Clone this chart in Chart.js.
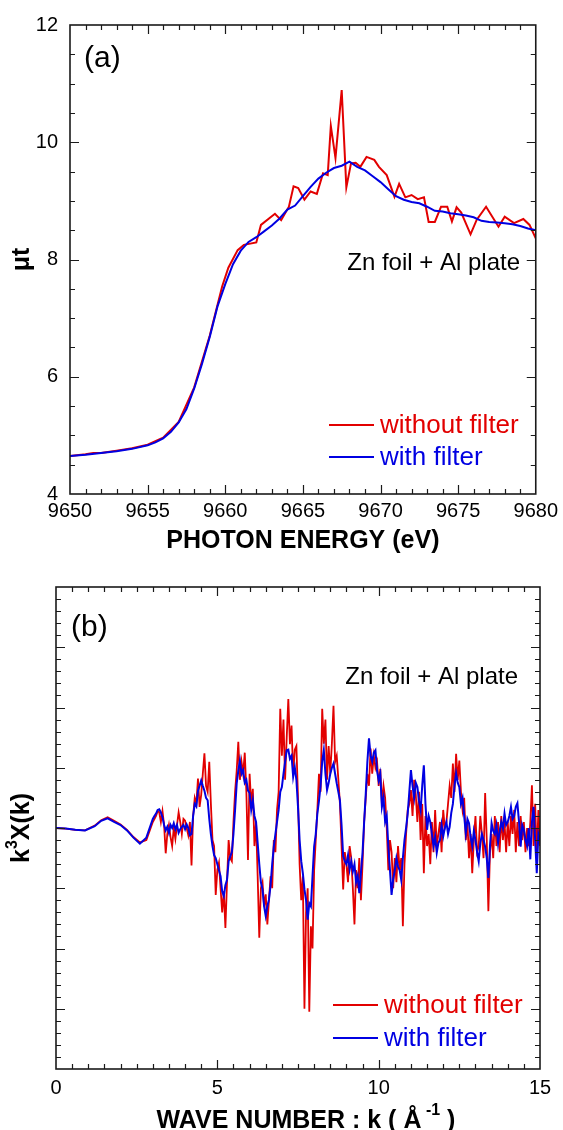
<!DOCTYPE html>
<html>
<head>
<meta charset="utf-8">
<script src="https://cdn.jsdelivr.net/npm/chart.js@4.4.1/dist/chart.umd.min.js"></script>
<style>
body { margin: 0; background: #fff; width: 563px; height: 1130px; position: relative; overflow: hidden; }
.box { position: absolute; left: 0; width: 563px; }
#boxA { top: 0; height: 560px; }
#boxB { top: 560px; height: 570px; }
</style>
</head>
<body>
<div class="box" id="boxA"><canvas id="chartA" width="563" height="560"></canvas></div>
<div class="box" id="boxB"><canvas id="chartB" width="563" height="570"></canvas></div>
<script>
// (a) XANES, photon energy (eV) vs mu*t
const energyFilter = [9650, 9651, 9652, 9653, 9654, 9655, 9655.5, 9656, 9656.5, 9657, 9657.5, 9658, 9658.5, 9659, 9659.5, 9660, 9660.5, 9661, 9661.5, 9662, 9662.5, 9663, 9663.5, 9664, 9664.5, 9665, 9665.5, 9666, 9666.5, 9667, 9667.5, 9668, 9668.5, 9669, 9669.5, 9670, 9670.5, 9671, 9671.5, 9672, 9672.5, 9673, 9673.5, 9674, 9674.5, 9675, 9675.5, 9676, 9676.5, 9677, 9677.5, 9678, 9678.5, 9679, 9679.5, 9680];
const muFilter = [4.65, 4.67, 4.70, 4.73, 4.77, 4.83, 4.88, 4.95, 5.06, 5.22, 5.45, 5.80, 6.22, 6.68, 7.20, 7.58, 7.92, 8.15, 8.30, 8.38, 8.48, 8.58, 8.70, 8.85, 8.92, 9.08, 9.24, 9.38, 9.48, 9.56, 9.60, 9.67, 9.58, 9.52, 9.42, 9.32, 9.20, 9.08, 9.02, 8.98, 8.96, 8.90, 8.83, 8.82, 8.79, 8.77, 8.75, 8.72, 8.66, 8.64, 8.63, 8.62, 8.60, 8.57, 8.53, 8.50];

const energyNoFilter = [9650, 9651, 9651.5, 9652, 9653, 9654, 9655, 9656, 9657, 9658, 9659, 9659.8, 9660.2, 9660.8, 9661.2, 9662.0, 9662.3, 9663.2, 9663.6, 9664.1, 9664.4, 9664.7, 9665.1, 9665.5, 9665.9, 9666.3, 9666.6, 9666.8, 9667.1, 9667.5, 9667.8, 9668.1, 9668.4, 9668.7, 9669.1, 9669.6, 9669.9, 9670.4, 9670.9, 9671.2, 9671.6, 9672.0, 9672.4, 9672.8, 9673.1, 9673.5, 9673.9, 9674.3, 9674.6, 9674.9, 9675.2, 9675.8, 9676.2, 9676.8, 9677.6, 9678.0, 9678.6, 9679.2, 9679.6, 9680];
const muNoFilter = [4.65, 4.68, 4.70, 4.70, 4.74, 4.78, 4.84, 4.96, 5.23, 5.82, 6.70, 7.54, 7.86, 8.16, 8.25, 8.29, 8.59, 8.78, 8.67, 8.90, 9.25, 9.22, 9.02, 9.16, 9.12, 9.47, 9.44, 10.28, 9.73, 10.89, 9.23, 9.64, 9.65, 9.58, 9.75, 9.70, 9.58, 9.44, 9.07, 9.29, 9.06, 9.10, 9.03, 9.06, 8.64, 8.64, 8.90, 8.90, 8.65, 8.89, 8.80, 8.43, 8.68, 8.90, 8.56, 8.73, 8.62, 8.69, 8.59, 8.36];

// (b) EXAFS, k (1/A) vs k^3 chi(k)
const kValues = [0, 0.3, 0.6, 0.9, 1.2, 1.4, 1.6, 1.8, 2.0, 2.2, 2.4, 2.6, 2.8,
  3.0, 3.05, 3.1, 3.15, 3.2, 3.25, 3.3, 3.35, 3.4, 3.45, 3.5, 3.55, 3.6, 3.65, 3.7, 3.75, 3.8, 3.85, 3.9, 3.95,
  4.0, 4.05, 4.1, 4.15, 4.2, 4.25, 4.3, 4.35, 4.4, 4.45, 4.5, 4.55, 4.6, 4.65, 4.7, 4.75, 4.8, 4.85, 4.9, 4.95,
  5.0, 5.05, 5.1, 5.15, 5.2, 5.25, 5.3, 5.35, 5.4, 5.45, 5.5, 5.55, 5.6, 5.65, 5.7, 5.75, 5.8, 5.85, 5.9, 5.95,
  6.0, 6.05, 6.1, 6.15, 6.2, 6.25, 6.3, 6.35, 6.4, 6.45, 6.5, 6.55, 6.6, 6.65, 6.7, 6.75, 6.8, 6.85, 6.9, 6.95,
  7.0, 7.05, 7.1, 7.15, 7.2, 7.25, 7.3, 7.35, 7.4, 7.45, 7.5, 7.55, 7.6, 7.65, 7.7, 7.75, 7.8, 7.85, 7.9, 7.95,
  8.0, 8.05, 8.1, 8.15, 8.2, 8.25, 8.3, 8.35, 8.4, 8.45, 8.5, 8.55, 8.6, 8.65, 8.7, 8.75, 8.8, 8.85, 8.9, 8.95,
  9.0, 9.05, 9.1, 9.15, 9.2, 9.25, 9.3, 9.35, 9.4, 9.45, 9.5, 9.55, 9.6, 9.65, 9.7, 9.75, 9.8, 9.85, 9.9, 9.95,
  10.0, 10.05, 10.1, 10.15, 10.2, 10.25, 10.3, 10.35, 10.4, 10.45, 10.5, 10.55, 10.6, 10.65, 10.7, 10.75, 10.8, 10.85, 10.9, 10.95,
  11.0, 11.05, 11.1, 11.15, 11.2, 11.25, 11.3, 11.35, 11.4, 11.45, 11.5, 11.55, 11.6, 11.65, 11.7, 11.75, 11.8, 11.85, 11.9, 11.95,
  12.0, 12.05, 12.1, 12.15, 12.2, 12.25, 12.3, 12.35, 12.4, 12.45, 12.5, 12.55, 12.6, 12.65, 12.7, 12.75, 12.8, 12.85, 12.9, 12.95,
  13.0, 13.05, 13.1, 13.15, 13.2, 13.25, 13.3, 13.35, 13.4, 13.45, 13.5, 13.55, 13.6, 13.65, 13.7, 13.75, 13.8, 13.85, 13.9, 13.95,
  14.0, 14.05, 14.1, 14.15, 14.2, 14.25, 14.3, 14.35, 14.4, 14.45, 14.5, 14.55, 14.6, 14.65, 14.7, 14.75, 14.8, 14.85, 14.9, 14.95,
  15.0];
const chiFilter = [0, -0.01, -0.03, -0.04, 0.03, 0.12, 0.16, 0.10, 0.05, -0.04, -0.16, -0.26, -0.16,
  0.15, 0.20, 0.24, 0.30, 0.31, 0.26, 0.18, 0.05, -0.04, 0.02, -0.08, 0.05, 0.00, 0.08, -0.02, 0.05, -0.08, -0.02, 0.02, 0.05,
  -0.02, 0.06, 0.00, -0.12, -0.10, 0.20, 0.40, 0.36, 0.62, 0.70, 0.79, 0.70, 0.62, 0.50, 0.46, 0.15, -0.10, -0.30, -0.45, -0.50,
  -0.60, -0.70, -0.80, -1.05, -1.13, -0.95, -0.86, -0.55, -0.47, -0.40, -0.10, 0.30, 0.74, 0.95, 1.12, 0.90, 0.96, 0.75, 0.80, 0.62,
  0.58, 0.30, 0.46, 0.20, 0.10, -0.25, -0.60, -0.90, -1.02, -1.30, -1.46, -1.30, -1.19, -0.95, -0.60, -0.31, -0.10, 0.10, 0.30, 0.60,
  0.68, 0.90, 1.10, 1.29, 1.30, 1.15, 1.20, 0.85, 1.01, 0.80, 0.35, -0.20, -0.55, -0.75, -1.02, -1.20, -1.52, -1.25, -1.30, -0.80,
  -0.31, -0.10, 0.24, 0.45, 0.70, 1.10, 1.29, 0.90, 0.63, 0.75, 0.90, 1.00, 1.07, 0.90, 0.74, 0.60, 0.46, 0.05, -0.47, -0.55,
  -0.60, -0.45, -0.69, -0.55, -0.72, -0.60, -0.90, -0.80, -1.08, -0.75, -0.41, 0.10, 0.57, 1.10, 1.49, 1.20, 1.10, 1.25, 1.29, 0.95,
  0.79, 0.90, 0.35, 0.50, 0.10, 0.20, -0.31, -0.70, -1.11, -0.85, -0.70, -0.50, -0.64, -0.70, -0.86, -0.50, -0.20, 0.00, 0.24, 0.60,
  0.96, 0.70, 0.50, 0.75, 0.68, 0.45, 0.30, 0.70, 1.04, 0.40, -0.03, 0.20, 0.10, -0.10, -0.30, -0.15, -0.41, -0.25, -0.20, 0.05,
  -0.14, 0.00, 0.10, -0.10, 0.02, 0.25, 0.40, 0.70, 0.91, 0.75, 0.68, 0.40, 0.50, 0.20, -0.09, 0.15, 0.08, -0.15, -0.30, -0.05,
  -0.20, -0.40, -0.55, -0.25, -0.10, -0.20, -0.31, -0.50, -0.83, -0.30, 0.08, -0.05, -0.10, 0.05, -0.25, -0.05, 0.10, 0.00, 0.24, 0.05,
  0.10, 0.20, 0.35, 0.15, 0.20, 0.35, 0.41, 0.10, -0.31, 0.05, -0.03, -0.20, -0.30, 0.00, -0.52, 0.10, 0.35, -0.20, -0.75, -0.10,
  -0.20];
const chiNoFilter = [0, -0.01, -0.03, -0.04, 0.04, 0.13, 0.18, 0.12, 0.06, -0.03, -0.15, -0.24, -0.20,
  0.10, 0.15, 0.20, 0.28, 0.26, 0.10, 0.28, 0.05, -0.42, -0.10, 0.05, -0.15, -0.30, 0.00, -0.18, 0.05, 0.26, 0.10, -0.10, 0.15,
  0.12, 0.00, -0.12, 0.10, -0.62, 0.20, 0.50, 0.40, 0.82, 0.35, 0.55, 0.90, 1.24, 0.70, 0.60, 1.10, 0.40, -0.20, -0.30, -1.11,
  -0.70, -0.58, -1.00, -1.40, -1.05, -1.66, -0.90, -0.20, -0.50, -0.55, 0.10, 0.60, 0.95, 1.43, 0.80, 1.10, 0.90, 1.25, 0.60, -0.53,
  0.90, 0.40, 0.65, -0.30, 0.10, -0.80, -1.82, -1.00, -0.90, -1.30, -1.10, -1.60, -1.20, -0.80, -1.00, -0.20, -0.40, 0.30, 0.60, 1.98,
  1.20, 1.80, 0.80, 1.50, 2.14, 1.39, 1.70, 0.90, 1.30, 1.36, 0.50, -0.60, -1.20, -0.80, -3.00, -1.40, -1.00, -3.05, -1.63, -2.00,
  -0.70, -0.20, 0.30, 0.90, 0.60, 1.98, 1.40, 1.80, 0.80, 1.36, 0.90, 1.40, 2.03, 1.10, 1.20, 0.81, 0.40, -0.30, -1.02, -0.40,
  -0.60, -0.90, -0.30, -0.50, -1.00, -1.60, -0.70, -1.00, -0.50, -1.20, -0.60, 0.10, 0.50, 0.90, 0.70, 1.32, 0.90, 1.20, 1.00, 1.10,
  0.70, 0.98, 0.40, 0.70, 0.50, 0.00, -0.70, -0.20, -0.40, -1.00, -0.50, -0.90, -0.30, -0.70, -0.50, -1.63, -0.60, -0.10, 0.30, 0.40,
  0.63, 0.20, 0.80, 0.55, 0.10, 0.60, -0.20, 0.40, -0.75, 0.20, -0.30, -0.10, -0.60, 0.10, -0.40, 0.30, -0.30, -0.10, 0.10, -0.40,
  0.30, 0.00, 0.10, 0.40, 0.70, 0.50, 1.07, 0.60, 1.23, 0.80, 1.12, 0.60, 0.30, 0.50, -0.20, 0.10, -0.50, -0.10, -0.75, -0.20,
  0.20, -0.40, -0.30, 0.20, -0.10, -0.50, 0.58, -0.20, -1.38, -0.40, -0.10, -0.50, 0.20, -0.30, 0.10, -0.40, 0.20, -0.20, 0.10, -0.40,
  0.10, -0.30, 0.20, -0.10, 0.30, -0.40, 0.10, -0.30, 0.20, -0.20, 0.10, -0.40, 0.00, -0.30, 0.10, 0.71, -0.30, 0.40, -0.50, 0.30,
  -0.30];

const RED = 'rgb(226,0,0)';
const BLUE = 'rgb(0,0,226)';
const FONT = "'Liberation Sans', Arial, sans-serif";

function pts(xs, ys) {
  return xs.map((x, i) => ({ x: x, y: ys[i] }));
}

// frame + inward ticks on all four sides
const frameTicks = {
  id: 'frameTicks',
  afterDatasetsDraw(chart, args, opts) {
    const { ctx, chartArea: a, scales } = chart;
    ctx.save();
    ctx.strokeStyle = '#1a1a1a';
    ctx.lineWidth = 1.2;
    ctx.beginPath();
    const xs = scales.x, ys = scales.y;
    let n = Math.round((xs.max - xs.min) / opts.xMinor);
    let r = Math.round(opts.xMajor / opts.xMinor);
    for (let i = 1; i < n; i++) {
      const p = Math.round(xs.getPixelForValue(xs.min + i * opts.xMinor)) + 0.5;
      const len = i % r === 0 ? opts.majorLen : opts.minorLen;
      ctx.moveTo(p, a.bottom); ctx.lineTo(p, a.bottom - len);
      ctx.moveTo(p, a.top); ctx.lineTo(p, a.top + len);
    }
    n = Math.round((ys.max - ys.min) / opts.yMinor);
    r = Math.round(opts.yMajor / opts.yMinor);
    for (let i = 1; i < n; i++) {
      const p = Math.round(ys.getPixelForValue(ys.min + i * opts.yMinor)) + 0.5;
      const len = i % r === 0 ? opts.majorLen : opts.minorLen;
      ctx.moveTo(a.left, p); ctx.lineTo(a.left + len, p);
      ctx.moveTo(a.right, p); ctx.lineTo(a.right - len, p);
    }
    ctx.stroke();
    ctx.lineWidth = 1.6;
    ctx.strokeRect(a.left, a.top, a.right - a.left, a.bottom - a.top);
    ctx.restore();
  }
};

// text pieces: panel tag, sample note, legend, axis titles
function drawLegend(ctx, x, yTop, gap) {
  ctx.font = '26px ' + FONT;
  ctx.textAlign = 'left';
  ctx.textBaseline = 'middle';
  [[RED, 'without filter'], [BLUE, 'with filter']].forEach((it, i) => {
    const y = yTop + i * gap;
    ctx.strokeStyle = it[0];
    ctx.lineWidth = 2.2;
    ctx.beginPath();
    ctx.moveTo(x, y); ctx.lineTo(x + 45, y);
    ctx.stroke();
    ctx.fillStyle = it[0];
    ctx.fillText(it[1], x + 51, y + 1);
  });
}

const textsA = {
  id: 'textsA',
  afterDraw(chart) {
    const { ctx, chartArea: a } = chart;
    ctx.save();
    ctx.fillStyle = '#000';
    ctx.textBaseline = 'middle';
    ctx.font = '30px ' + FONT;
    ctx.textAlign = 'left';
    ctx.fillText('(a)', 84, 59);
    ctx.font = '24px ' + FONT;
    ctx.textAlign = 'right';
    ctx.fillText('Zn foil + Al plate', 520, 263);
    ctx.font = 'bold 25px ' + FONT;
    ctx.textAlign = 'center';
    ctx.fillText('PHOTON ENERGY (eV)', (a.left + a.right) / 2, 541);
    ctx.translate(22, (a.top + a.bottom) / 2);
    ctx.rotate(-Math.PI / 2);
    ctx.fillText('\u03bct', 0, 0);
    ctx.setTransform(1, 0, 0, 1, 0, 0);
    drawLegend(ctx, 329, 425, 32);
    ctx.restore();
  }
};

const textsB = {
  id: 'textsB',
  afterDraw(chart) {
    const { ctx, chartArea: a } = chart;
    ctx.save();
    ctx.fillStyle = '#000';
    ctx.textBaseline = 'middle';
    ctx.font = '30px ' + FONT;
    ctx.textAlign = 'left';
    ctx.fillText('(b)', 71, 68);
    ctx.font = '24px ' + FONT;
    ctx.textAlign = 'right';
    ctx.fillText('Zn foil + Al plate', 518, 117);
    // x title with superscript
    const big = 'bold 25px ' + FONT, small = 'bold 16px ' + FONT;
    const p1 = 'WAVE NUMBER : k ( \u00c5', p2 = ' -1', p3 = ' )';
    ctx.font = big; const w1 = ctx.measureText(p1).width, w3 = ctx.measureText(p3).width;
    ctx.font = small; const w2 = ctx.measureText(p2).width;
    let x0 = (a.left + a.right) / 2 + 8 - (w1 + w2 + w3) / 2;
    const yT = 561;
    ctx.textAlign = 'left';
    ctx.font = big; ctx.fillText(p1, x0, yT);
    ctx.font = small; ctx.fillText(p2, x0 + w1, yT - 10);
    ctx.font = big; ctx.fillText(p3, x0 + w1 + w2, yT);
    // y title k^3 X(k)
    ctx.translate(22, (a.top + a.bottom) / 2);
    ctx.rotate(-Math.PI / 2);
    const q1 = 'k', q2 = '3', q3 = 'X(k)';
    ctx.font = big; const v1 = ctx.measureText(q1).width, v3 = ctx.measureText(q3).width;
    ctx.font = small; const v2 = ctx.measureText(q2).width;
    let s = -(v1 + v2 + v3) / 2;
    ctx.font = big; ctx.fillText(q1, s, 0);
    ctx.font = small; ctx.fillText(q2, s + v1, -9);
    ctx.font = big; ctx.fillText(q3, s + v1 + v2, 0);
    ctx.setTransform(1, 0, 0, 1, 0, 0);
    drawLegend(ctx, 333, 445, 33);
    ctx.restore();
  }
};

function tickFont() {
  return { family: FONT, size: 20 };
}

const chartA = new Chart(document.getElementById('chartA'), {
  type: 'line',
  data: {
    datasets: [
      { label: 'with filter', data: pts(energyFilter, muFilter), borderColor: BLUE, borderWidth: 2, pointRadius: 0, tension: 0 },
      { label: 'without filter', data: pts(energyNoFilter, muNoFilter), borderColor: RED, borderWidth: 2, pointRadius: 0, tension: 0 }
    ]
  },
  options: {
    responsive: false,
    animation: false,
    layout: { padding: { top: 25, right: 23, left: 0, bottom: 0 } },
    plugins: {
      legend: { display: false },
      tooltip: { enabled: false },
      frameTicks: { xMinor: 1, xMajor: 5, yMinor: 0.5, yMajor: 2, majorLen: 9, minorLen: 5 }
    },
    scales: {
      x: {
        type: 'linear', min: 9650, max: 9680,
        grid: { display: false, drawTicks: false },
        border: { display: false },
        ticks: { stepSize: 5, padding: 5, color: '#000', font: tickFont(), maxRotation: 0, callback: v => String(v) },
        afterFit: s => { s.height = 66; }
      },
      y: {
        min: 4, max: 12,
        grid: { display: false, drawTicks: false },
        border: { display: false },
        ticks: { stepSize: 2, padding: 12, color: '#000', font: tickFont() },
        afterFit: s => { s.width = 70; }
      }
    }
  },
  plugins: [frameTicks, textsA]
});

const chartB = new Chart(document.getElementById('chartB'), {
  type: 'line',
  data: {
    datasets: [
      { label: 'with filter', data: pts(kValues, chiFilter), borderColor: BLUE, borderWidth: 2, pointRadius: 0, tension: 0 },
      { label: 'without filter', data: pts(kValues, chiNoFilter), borderColor: RED, borderWidth: 1.8, pointRadius: 0, tension: 0 }
    ]
  },
  options: {
    responsive: false,
    animation: false,
    layout: { padding: { top: 27, right: 23, left: 0, bottom: 0 } },
    plugins: {
      legend: { display: false },
      tooltip: { enabled: false },
      frameTicks: { xMinor: 0.5, xMajor: 5, yMinor: 0.2, yMajor: 1, majorLen: 9, minorLen: 5 }
    },
    scales: {
      x: {
        type: 'linear', min: 0, max: 15,
        grid: { display: false, drawTicks: false },
        border: { display: false },
        ticks: { stepSize: 5, padding: 7, color: '#000', font: tickFont(), maxRotation: 0 },
        afterFit: s => { s.height = 61; }
      },
      y: {
        min: -4, max: 4,
        grid: { display: false, drawTicks: false },
        border: { display: false },
        ticks: { display: false, stepSize: 1 },
        afterFit: s => { s.width = 56; }
      }
    }
  },
  plugins: [frameTicks, textsB]
});
</script>
</body>
</html>
